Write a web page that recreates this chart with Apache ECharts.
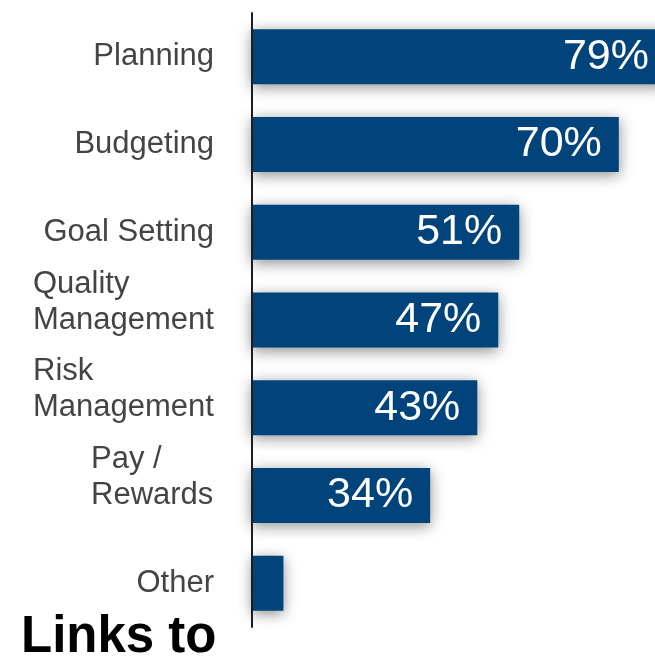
<!DOCTYPE html>
<html>
<head>
<meta charset="utf-8">
<script src="https://cdn.jsdelivr.net/npm/echarts@6/dist/echarts.min.js"></script>
<style>
  html, body { margin: 0; padding: 0; background: #fff; }
  #chart { width: 655px; height: 665px; }
</style>
</head>
<body>
<div id="chart"></div>
<script>
// Share of respondents linking each process
const categories = ['Planning', 'Budgeting', 'Goal Setting', 'Quality\nManagement', 'Risk\nManagement', 'Pay /\nRewards', 'Other'];
const shares = [79, 70, 51, 47, 43, 34, 6];
const showValue = [true, true, true, true, true, true, false];
const footerText = 'Links to';

const LABEL_FONT = '"Liberation Sans", Arial, Helvetica, sans-serif';
const LABEL_SIZE = 31;
const LINE_H = 36;
const BAR_COLOR = '#01437b';

// Width of the longest line of a multi-line label, so its lines can be
// left-aligned inside a right-aligned block.
const measureCtx = document.createElement('canvas').getContext('2d');
measureCtx.font = LABEL_SIZE + 'px ' + LABEL_FONT;
function lineWidth(s) { return Math.ceil(measureCtx.measureText(s).width); }

const rich = {};
const axisData = categories.map(function (c, i) {
  const lines = c.split('\n');
  if (lines.length > 1) {
    rich['c' + i] = {
      width: Math.max.apply(null, lines.map(lineWidth)),
      align: 'left',
      fontSize: LABEL_SIZE,
      lineHeight: LINE_H,
      fontFamily: LABEL_FONT,
      color: '#444'
    };
    // keep the last line level with the bar centre
    return { value: c, textStyle: { padding: [0, 0, LINE_H, 0] } };
  }
  return { value: c };
});

const chart = echarts.init(document.getElementById('chart'), null, { renderer: 'canvas' });
chart.setOption({
  animation: false,
  backgroundColor: '#fff',
  // the value range runs past the right edge of the canvas
  grid: { left: 252, top: 13, bottom: 38, right: -121, outerBoundsMode: 'none', containLabel: false },
  xAxis: {
    type: 'value', min: 0, max: 100, show: false
  },
  yAxis: {
    type: 'category',
    inverse: true,
    data: axisData,
    z: 5,
    axisLine: { show: true, lineStyle: { color: '#1e1e1e', width: 2 } },
    axisTick: { show: false },
    splitLine: { show: false },
    axisLabel: {
      margin: 38,
      fontSize: LABEL_SIZE,
      lineHeight: LINE_H,
      fontFamily: LABEL_FONT,
      color: '#444',
      rich: rich,
      formatter: function (value, index) {
        const lines = value.split('\n');
        if (lines.length === 1) return value;
        return lines.map(function (l) { return '{c' + index + '|' + l + '}'; }).join('\n');
      }
    }
  },
  series: [{
    type: 'bar',
    barWidth: 55,
    clip: false,
    data: shares.map(function (v, i) {
      return { value: v, label: { show: showValue[i] } };
    }),
    itemStyle: {
      color: BAR_COLOR,
      shadowColor: 'rgba(0,0,0,0.45)',
      shadowBlur: 14,
      shadowOffsetX: 0,
      shadowOffsetY: 3
    },
    label: {
      show: true,
      position: 'insideRight',
      distance: 17,
      formatter: '{c}%',
      color: '#fff',
      fontSize: 43,
      fontFamily: LABEL_FONT
    }
  }],
  title: {
    text: footerText,
    left: 21,
    top: 612,
    padding: 0,
    textStyle: { fontSize: 51, fontWeight: 'bold', color: '#000', fontFamily: LABEL_FONT }
  }
});
</script>
</body>
</html>
